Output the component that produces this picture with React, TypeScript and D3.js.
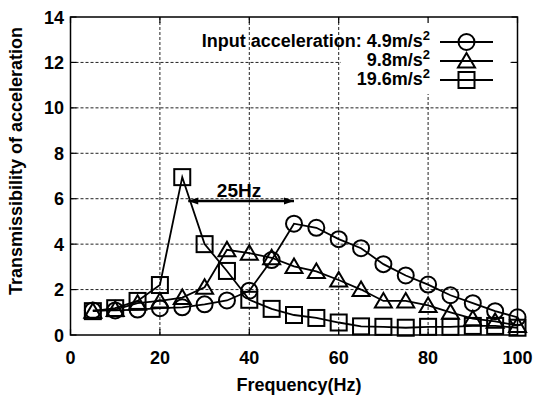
import React from "react";
import * as d3 from "d3";

const freqs = [5, 10, 15, 20, 25, 30, 35, 40, 45, 50, 55, 60, 65, 70, 75, 80, 85, 90, 95, 100];
const acc49 = [1.08, 1.08, 1.12, 1.18, 1.22, 1.35, 1.52, 1.95, 3.3, 4.9, 4.72, 4.22, 3.82, 3.12, 2.62, 2.22, 1.75, 1.4, 1.05, 0.78];
const acc98 = [1.05, 1.12, 1.4, 1.5, 1.65, 2.1, 3.75, 3.6, 3.4, 3.02, 2.8, 2.42, 2.0, 1.5, 1.5, 1.3, 1.0, 0.72, 0.6, 0.42];
const acc196 = [1.05, 1.18, 1.5, 2.2, 6.95, 4.0, 2.82, 1.55, 1.15, 0.88, 0.75, 0.55, 0.38, 0.36, 0.32, 0.36, 0.36, 0.4, 0.4, 0.32];
const xTicks = [0, 20, 40, 60, 80, 100];
const yTicks = [0, 2, 4, 6, 8, 10, 12, 14];
const legendLabels = ["4.9", "9.8", "19.6"];

const W = 537, H = 398;
const L = 70.5, R = 517.5, T = 17, B = 335;
const FONT = "'Liberation Sans', Arial, Helvetica, sans-serif";

const x = d3.scaleLinear().domain([0, 100]).range([L, R]);
const y = d3.scaleLinear().domain([0, 14]).range([B, T]);

type Kind = "circle" | "triangle" | "square";

function Marker({ cx, cy, kind }: { cx: number; cy: number; kind: Kind }) {
  const common = { fill: "none", stroke: "#000", strokeWidth: 2 };
  if (kind === "circle") return <circle cx={cx} cy={cy} r={8} {...common} />;
  if (kind === "square") return <rect x={cx - 8} y={cy - 8} width={16} height={16} {...common} />;
  const p = `${cx},${cy - 8} ${cx - 8.5},${cy + 6.5} ${cx + 8.5},${cy + 6.5}`;
  return <polygon points={p} {...common} />;
}

const series: { data: number[]; kind: Kind }[] = [
  { data: acc49, kind: "circle" },
  { data: acc98, kind: "triangle" },
  { data: acc196, kind: "square" },
];

export default function App() {
  const line = d3
    .line<number>()
    .x((_, i) => x(freqs[i]))
    .y((d) => y(d))
    .curve(d3.curveLinear);

  const legendRows = [42, 61, 80];
  const legendBase = [47, 66, 85];
  const arrowY = y(5.9);

  return (
    <svg width={W} height={H} style={{ position: "absolute", left: 0, top: 0, background: "#fff" }}>
      <defs>
        <marker id="ah" viewBox="0 0 10 10" refX="10" refY="5" markerWidth="14" markerHeight="10" markerUnits="userSpaceOnUse" orient="auto-start-reverse">
          <path d="M0,1.5 L10,5 L0,8.5 z" fill="#000" />
        </marker>
      </defs>
      <rect x={0} y={0} width={W} height={H} fill="#fff" />
      {/* grid */}
      {yTicks.slice(1, -1).map((t) => (
        <line key={"gy" + t} x1={L} x2={R} y1={y(t)} y2={y(t)} stroke="#222" strokeWidth={1} strokeDasharray="3,2" />
      ))}
      {xTicks.slice(1, -1).map((t) => (
        <line key={"gx" + t} x1={x(t)} x2={x(t)} y1={T} y2={B} stroke="#222" strokeWidth={1} strokeDasharray="3,2" />
      ))}
      {/* legend background */}
      <rect x={341} y={T + 1} width={169} height={76} fill="#fff" />
      {/* ticks */}
      {yTicks.map((t) => (
        <g key={"ty" + t}>
          <line x1={L} x2={L + 6} y1={y(t)} y2={y(t)} stroke="#000" strokeWidth={1.2} />
          <line x1={R} x2={R - 6} y1={y(t)} y2={y(t)} stroke="#000" strokeWidth={1.2} />
        </g>
      ))}
      {xTicks.map((t) => (
        <g key={"tx" + t}>
          <line x1={x(t)} x2={x(t)} y1={B} y2={B - 6} stroke="#000" strokeWidth={1.2} />
          <line x1={x(t)} x2={x(t)} y1={T} y2={T + 6} stroke="#000" strokeWidth={1.2} />
        </g>
      ))}
      {/* frame */}
      <rect x={L} y={T} width={R - L} height={B - T} fill="none" stroke="#000" strokeWidth={1.5} />
      {/* tick labels */}
      {yTicks.map((t) => (
        <text key={"ly" + t} x={64} y={y(t) + 6.5} textAnchor="end" fontFamily={FONT} fontWeight="bold" fontSize={18} fill="#000">
          {t}
        </text>
      ))}
      {xTicks.map((t) => (
        <text key={"lx" + t} x={x(t)} y={363.5} textAnchor="middle" fontFamily={FONT} fontWeight="bold" fontSize={18} fill="#000">
          {t}
        </text>
      ))}
      <text x={299} y={391} textAnchor="middle" fontFamily={FONT} fontWeight="bold" fontSize={18} fill="#000">
        Frequency(Hz)
      </text>
      <text transform={`translate(22,161) rotate(-90)`} textAnchor="middle" fontFamily={FONT} fontWeight="bold" fontSize={18} fill="#000">
        Transmissibility of acceleration
      </text>
      {/* series */}
      {series.map((s, si) => (
        <g key={"s" + si}>
          <path d={line(s.data) || ""} fill="none" stroke="#000" strokeWidth={1.8} />
          {s.data.map((v, i) => (
            <Marker key={i} cx={x(freqs[i])} cy={y(v)} kind={s.kind} />
          ))}
        </g>
      ))}
      {/* annotation */}
      <line x1={x(25) + 6} x2={x(50)} y1={arrowY} y2={arrowY} stroke="#000" strokeWidth={2.5} markerStart="url(#ah)" markerEnd="url(#ah)" />
      <text x={239} y={196.5} textAnchor="middle" fontFamily={FONT} fontWeight="bold" fontSize={19} fill="#000">
        25Hz
      </text>
      {/* legend */}
      {series.map((s, i) => (
        <g key={"lg" + i}>
          <text x={430} y={legendBase[i]} textAnchor="end" fontFamily={FONT} fontWeight="bold" fontSize={18} fill="#000">
            {i === 0 ? "Input acceleration: " : ""}
            {legendLabels[i]}m/s
            <tspan dy={-7} fontSize={13}>2</tspan>
          </text>
          <line x1={440} x2={493} y1={legendRows[i]} y2={legendRows[i]} stroke="#000" strokeWidth={1.8} />
          <Marker cx={466.5} cy={legendRows[i]} kind={s.kind} />
        </g>
      ))}
    </svg>
  );
}
